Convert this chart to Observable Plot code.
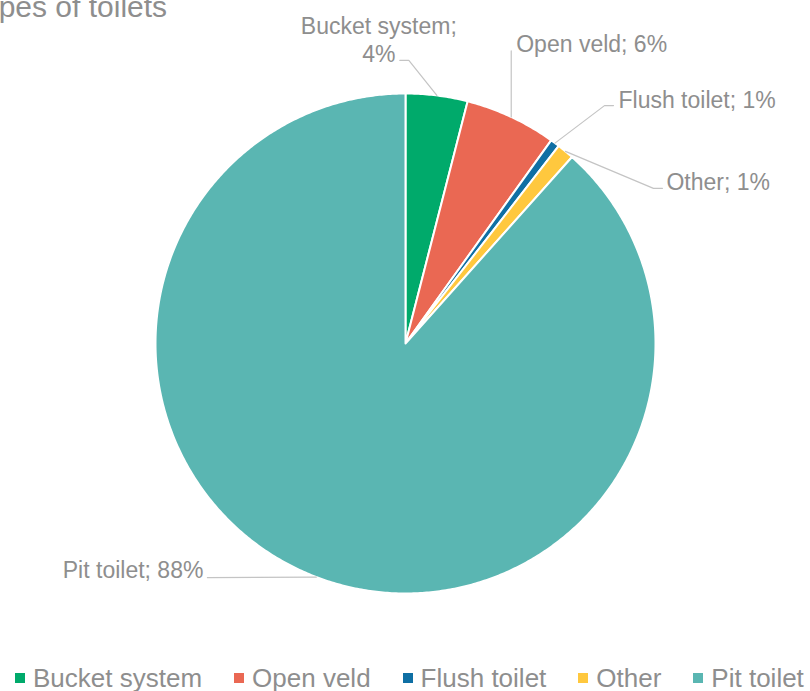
<!DOCTYPE html>
<html><head><meta charset="utf-8">
<script src="https://cdn.jsdelivr.net/npm/d3@7"></script>
<script src="https://cdn.jsdelivr.net/npm/@observablehq/plot@0.6"></script>
<style>
body{margin:0;background:#fff;font-family:"Liberation Sans",Arial,sans-serif;}
#wrap{position:relative;width:810px;height:691px;overflow:hidden;}
#title{position:absolute;left:-33px;top:-8px;font-size:30px;line-height:30px;color:#8e8e8e;white-space:nowrap;}
#legend{position:absolute;left:15px;top:665px;display:flex;gap:32px;font-size:26px;line-height:26px;color:#8e8e8e;white-space:nowrap;}
.item{display:flex;align-items:center;}
.sw{width:10px;height:10px;margin-right:8px;flex:none;}
#chart{position:absolute;left:0;top:0;}
</style></head>
<body><div id="wrap"><div id="chart"></div><div id="title">Types of toilets</div><div id="legend"></div></div>
<script>
// ---- data ----
const categories = ["Bucket system", "Open veld", "Flush toilet", "Other", "Pit toilet"];
const values = [4.0, 5.9, 0.6, 1.1, 88.4];
const labelTexts = ["Bucket system;\n4%", "Open veld; 6%", "Flush toilet; 1%", "Other; 1%", "Pit toilet; 88%"];
const colors = ["#00AA6B", "#EA6853", "#0F6FA4", "#FFC83E", "#5AB6B2"];

// ---- label layout (pixel offsets from the slice's edge point at mid-angle) ----
const labelLayout = [
  {path: [[-28, -35], [-37, -35]], text: [-58, -56], anchor: "middle"},
  {path: [[0, -66]], text: [5, -74], anchor: "start"},
  {path: [[49.5, -37.5], [58.5, -37.5]], text: [63.5, -44], anchor: "start"},
  {path: [[88, 37], [97, 37]], text: [101, 29.6], anchor: "start"},
  {path: [[-109, 0.5]], text: [-113, -8], anchor: "end"}
];

const W = 810, H = 691;
const xDomain = [-1.62, 1.62];
const pxPerUnit = W / (xDomain[1] - xDomain[0]);
const yDomain = [-(H - 343) / pxPerUnit, 343 / pxPerUnit];

const total = d3.sum(values);
let acc = 0;
const slices = categories.map((c, i) => {
  const a0 = acc / total * 2 * Math.PI; acc += values[i];
  const a1 = acc / total * 2 * Math.PI;
  return {cat: c, a0, a1, mid: (a0 + a1) / 2};
});
const polyPoints = slices.flatMap(s => {
  const n = Math.max(2, Math.ceil((s.a1 - s.a0) / (Math.PI / 360)));
  const pts = [{cat: s.cat, x: 0, y: 0}];
  for (let k = 0; k <= n; k++) {
    const a = s.a0 + (s.a1 - s.a0) * k / n;
    pts.push({cat: s.cat, x: Math.sin(a), y: Math.cos(a)});
  }
  return pts;
});
const edge = slices.map(s => [Math.sin(s.mid), Math.cos(s.mid)]);
const toU = ([dx, dy], [ex, ey]) => [ex + dx / pxPerUnit, ey - dy / pxPerUnit];
const leaderPoints = slices.flatMap((s, i) => {
  const pts = [{cat: s.cat, x: edge[i][0], y: edge[i][1]}];
  labelLayout[i].path.forEach(p => { const [x, y] = toU(p, edge[i]); pts.push({cat: s.cat, x, y}); });
  return pts;
});
const labels = slices.map((s, i) => {
  const [x, y] = toU(labelLayout[i].text, edge[i]);
  return {cat: s.cat, x, y, text: labelTexts[i], anchor: labelLayout[i].anchor};
});

const chart = Plot.plot({
  width: W, height: H, margin: 0,
  x: {domain: xDomain, axis: null},
  y: {domain: yDomain, axis: null},
  color: {domain: categories, range: colors},
  style: {fontFamily: "'Liberation Sans', Arial, sans-serif", background: "transparent", overflow: "visible"},
  marks: [
    Plot.line(polyPoints, {x: "x", y: "y", z: "cat", fill: "cat", stroke: "white", strokeWidth: 2, curve: "linear-closed", strokeLinejoin: "round"}),
    Plot.line(leaderPoints, {x: "x", y: "y", z: "cat", stroke: "#c4c4c4", strokeWidth: 1.2}),
    ...["start", "middle", "end"].map(a => Plot.text(labels.filter(d => d.anchor === a), {x: "x", y: "y", text: "text", textAnchor: a, lineAnchor: "middle", lineHeight: 1.22, fontSize: 23, fill: "#8e8e8e"}))
  ]
});
document.getElementById("chart").appendChild(chart);

const legend = document.getElementById("legend");
categories.forEach((c, i) => {
  const item = document.createElement("div"); item.className = "item";
  const sw = document.createElement("span"); sw.className = "sw"; sw.style.background = colors[i];
  const t = document.createElement("span"); t.textContent = c;
  item.appendChild(sw); item.appendChild(t); legend.appendChild(item);
});
</script></body></html>
